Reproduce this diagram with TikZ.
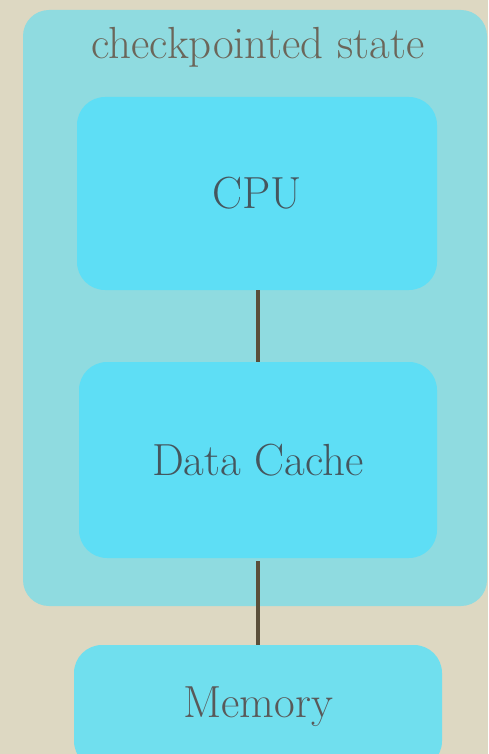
\documentclass[tikz,border=0pt]{standalone}
\usepackage{tikz}
\usetikzlibrary{positioning}
\definecolor{papier}{HTML}{DDD8C2}
\definecolor{huelle}{HTML}{8FDBE0}
\definecolor{kasten}{HTML}{5EDEF5}
\definecolor{speicher}{HTML}{70DFEE}
\definecolor{linie}{HTML}{5A4F3A}
\definecolor{titel}{HTML}{6B665A}
\definecolor{schrift}{HTML}{45565E}
\begin{document}
\begin{tikzpicture}[x=1pt, y=-1pt,
		einheit/.style={draw=none, fill=kasten, rounded corners=28pt, inner sep=0pt,
			text=schrift, font=\fontsize{45}{54}\selectfont},
		verbindung/.style={draw=linie, line width=4pt}]
		%Bildbereich und Papier
		\useasboundingbox (0,0) rectangle (488,754);
		\fill[papier] (0,0) rectangle (488,754);
		\clip (0,0) rectangle (488,754);
		% Huelle
		\node[fill=huelle, rounded corners=26pt, minimum width=464pt, minimum height=596pt, inner sep=0pt] (zustand) at (255,308) {};
		\node[text=titel, font=\fontsize{45}{54}\selectfont, anchor=base] (titel) at (258,59) {checkpointed state};
		% Einheiten
		\node[einheit, minimum width=360pt, minimum height=193pt] (cpu) at (257,193.5) {CPU};
		\node[einheit, minimum width=358pt, minimum height=196pt] (cache) at (258,460) {Data Cache};
		\node[einheit, fill=speicher, minimum width=368pt, minimum height=124pt, text=black!65] (memory) at (258,707) {Memory};
		% Verbindungen
		\draw[verbindung] (cpu.south) ++(1,0) -- (cache.north);
		\draw[verbindung] (cache.south) ++(0,3) -- (memory.north);
	\end{tikzpicture}
\end{document}
